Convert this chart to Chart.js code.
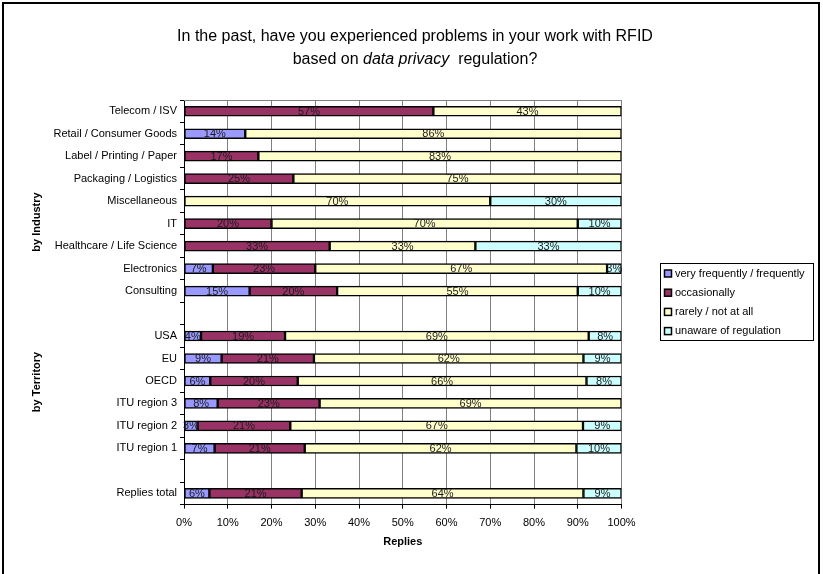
<!DOCTYPE html>
<html>
<head>
<meta charset="utf-8">
<script src="https://cdn.jsdelivr.net/npm/chart.js@4.4.1/dist/chart.umd.min.js"></script>
<style>
  html, body { margin: 0; padding: 0; background: #fff; }
  #wrap { width: 823px; height: 574px; position: relative; }
</style>
</head>
<body>
<div id="wrap"><canvas id="chart"></canvas></div>
<script>
// rows from top to bottom, '' = spacer row
const categories = [
	'Telecom / ISV', 'Retail / Consumer Goods', 'Label / Printing / Paper', 'Packaging / Logistics',
	'Miscellaneous', 'IT', 'Healthcare / Life Science', 'Electronics', 'Consulting', '',
	'USA', 'EU', 'OECD', 'ITU region 3', 'ITU region 2', 'ITU region 1', '', 'Replies total'
];
const seriesNames = ['very frequently / frequently', 'occasionally', 'rarely / not at all', 'unaware of regulation'];
const veryFrequently = [null, 14, null, null, null, null, null, 6.6, 15, null, 3.9, 8.6, 6, 7.7, 3.1, 7, null, 5.8];
const occasionally = [57, null, 17, 25, null, 20, 33.3, 23.4, 20, null, 19.2, 21.1, 20, 23.3, 21.2, 20.6, null, 21.1];
const rarely = [43, 86, 83, 75, 70, 70, 33.3, 66.7, 55, null, 69.4, 61.6, 66, 69, 66.9, 62.1, null, 64.4];
const unaware = [null, null, null, null, 30, 10, 33.4, 3.3, 10, null, 7.5, 8.7, 8, null, 8.8, 10.3, null, 8.7];
const xTicks = [0, 10, 20, 30, 40, 50, 60, 70, 80, 90, 100];

const colors = ['#9999FF', '#993366', '#FFFFCC', '#CCFFFF'];
const FONT = '"Liberation Sans", Arial, sans-serif';

Chart.defaults.font.family = FONT;
Chart.defaults.font.size = 11;
Chart.defaults.color = '#000';

const extras = {
	id: 'extras',
	beforeDraw(chart) {
		const c = chart.ctx;
		c.save();
		c.fillStyle = '#fff';
		c.fillRect(0, 0, chart.width, chart.height);
		c.strokeStyle = '#000';
		c.lineWidth = 2;
		c.strokeRect(3, 3, 816, 600);
		c.restore();
	},
	beforeDatasetsDraw(chart) {
		const a = chart.chartArea;
		const c = chart.ctx;
		c.save();
		c.strokeStyle = '#808080';
		c.lineWidth = 1;
		c.beginPath();
		c.moveTo(a.left, a.top + 0.5);
		c.lineTo(a.right, a.top + 0.5);
		c.stroke();
		c.restore();
	},
	afterDatasetsDraw(chart) {
		const c = chart.ctx;
		c.save();
		c.font = '11px ' + FONT;
		c.fillStyle = '#1a1a1a';
		c.textAlign = 'center';
		c.textBaseline = 'middle';
		chart.data.datasets.forEach((ds, i) => {
			chart.getDatasetMeta(i).data.forEach((bar, j) => {
				const v = ds.data[j];
				if (!v) return;
				c.fillText(Math.round(v) + '%', (bar.x + bar.base) / 2, bar.y + 0.5);
			});
		});
		c.restore();
	},
	afterDraw(chart) {
		const c = chart.ctx;
		c.save();
		c.fillStyle = '#000';
		c.textBaseline = 'middle';

		// title
		const cx = 415;
		c.font = '16px ' + FONT;
		c.textAlign = 'center';
		c.fillText('In the past, have you experienced problems in your work with RFID', cx, 37);
		const parts = [['based on ', '16px '], ['data privacy', 'italic 16px '], ['  regulation?', '16px ']];
		let total = 0;
		parts.forEach(p => { c.font = p[1] + FONT; total += c.measureText(p[0]).width; });
		let x = cx - total / 2;
		c.textAlign = 'left';
		parts.forEach(p => {
			c.font = p[1] + FONT;
			c.fillText(p[0], x, 60);
			x += c.measureText(p[0]).width;
		});

		// group labels
		c.font = 'bold 11px ' + FONT;
		c.textAlign = 'center';
		[['by Industry', 222], ['by Territory', 382]].forEach(g => {
			c.save();
			c.translate(37, g[1]);
			c.rotate(-Math.PI / 2);
			c.fillText(g[0], 0, 0);
			c.restore();
		});

		// legend
		const lx = 660, ly = 263, lw = 153, lh = 77;
		c.strokeStyle = '#000';
		c.lineWidth = 1;
		c.strokeRect(lx + 0.5, ly + 0.5, lw, lh);
		c.font = '11px ' + FONT;
		c.textAlign = 'left';
		chart.data.datasets.forEach((ds, i) => {
			const y = 273.5 + i * 19.2;
			c.fillStyle = ds.backgroundColor;
			c.fillRect(664.5, y - 3.5, 7, 7);
			c.lineWidth = 1.5;
			c.strokeRect(664.5, y - 3.5, 7, 7);
			c.fillStyle = '#000';
			c.fillText(ds.label, 675, y);
		});
		c.restore();
	}
};

const seriesData = [veryFrequently, occasionally, rarely, unaware];

new Chart(document.getElementById('chart'), {
	type: 'bar',
	data: {
		labels: categories,
		datasets: seriesNames.map((name, i) => ({
			label: name,
			data: seriesData[i],
			backgroundColor: colors[i],
			borderColor: '#000',
			borderWidth: 1.5,
			borderSkipped: false,
			barThickness: 10
		}))
	},
	options: {
		indexAxis: 'y',
		responsive: true,
		maintainAspectRatio: false,
		animation: false,
		layout: {
			padding: { top: 100, right: 201.5, bottom: 21, left: 0 }
		},
		scales: {
			x: {
				stacked: true,
				min: 0,
				max: 100,
				afterBuildTicks: s => { s.ticks = xTicks.map(v => ({ value: v })); },
				afterFit: s => { s.height = 48.4; },
				ticks: {
					padding: 8,
					font: { size: 11 },
					callback: v => v + '%'
				},
				grid: { color: '#808080', tickColor: '#000', tickLength: 4 },
				border: { color: '#000' },
				title: {
					display: true,
					text: 'Replies',
					font: { size: 11, weight: 'bold' },
					padding: { top: 7, bottom: 4 }
				}
			},
			y: {
				stacked: true,
				afterFit: s => { s.width = 184; },
				ticks: { padding: 3, autoSkip: false, font: { size: 11 } },
				grid: { drawOnChartArea: false, offset: true, tickLength: 4, color: '#000' },
				border: { color: '#000' }
			}
		},
		plugins: {
			legend: { display: false },
			title: { display: false },
			tooltip: { enabled: false }
		}
	},
	plugins: [extras]
});
</script>
</body>
</html>
